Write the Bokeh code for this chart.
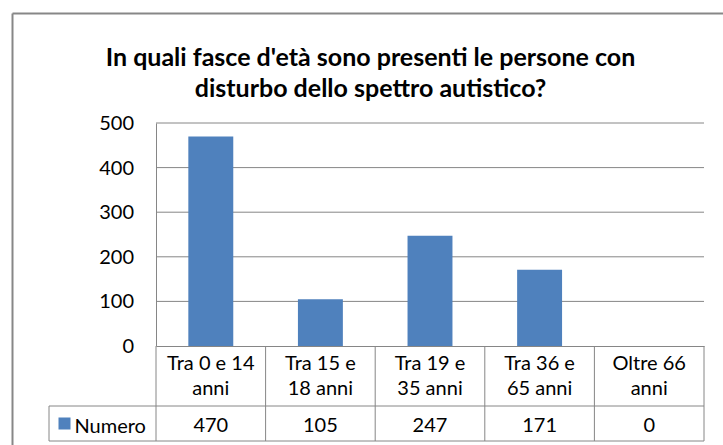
from bokeh.plotting import figure
from bokeh.models import ColumnDataSource, Range1d, FixedTicker
from bokeh.core.properties import value
from bokeh.embed import file_html
from bokeh.resources import INLINE

# ---- data ----
title_lines = ["In quali fasce d'età sono presenti le persone con",
               "disturbo dello spettro autistico?"]
categories = ["Tra 0 e 14 anni", "Tra 15 e 18 anni", "Tra 19 e 35 anni",
              "Tra 36 e 65 anni", "Oltre 66 anni"]
category_labels = ["Tra 0 e 14\nanni", "Tra 15 e\n18 anni", "Tra 19 e\n35 anni",
                   "Tra 36 e\n65 anni", "Oltre 66\nanni"]
series_name = "Numero"
values = [470, 105, 247, 171, 0]
y_ticks = [0, 100, 200, 300, 400, 500]

# ---- layout (pixels inside the figure) ----
W, H = 723, 445
FL, FR, FT, FB = 155.5, 703.5, 122.5, 345.5     # plot area
ROW1_BOT, ROW2_BOT = 405.5, 440.5                # data table rows
TABLE_LEFT = 48.5
FONT = "Lato"
FS = "20px"
BAR = "#4F81BD"
GRID = "#868686"
BORDER = "#878787"

ncat = len(categories)
ymax = y_ticks[-1]
centers = [i + 0.5 for i in range(ncat)]


def xd(px):
    return (px - FL) / (FR - FL) * ncat


def yd(py):
    return (FB - py) / (FB - FT) * ymax


p = figure(width=W, height=H, x_range=Range1d(xd(0), xd(W)),
           y_range=Range1d(yd(H), yd(0)), output_backend="svg",
           toolbar_location=None, min_border=0, min_border_left=0,
           min_border_right=0, min_border_top=0, min_border_bottom=0)
p.title.text = ""
p.outline_line_color = None
p.background_fill_color = "white"
p.border_fill_color = "white"
p.xgrid.visible = False
p.ygrid.visible = False

# y axis drawn at the left edge of the plot area
p.yaxis.fixed_location = 0
p.yaxis.bounds = (0, ymax)
p.yaxis.ticker = FixedTicker(ticks=y_ticks)
p.yaxis.major_tick_line_color = None
p.yaxis.minor_tick_line_color = None
p.yaxis.axis_line_color = GRID
p.yaxis.major_label_standoff = 16
p.yaxis.major_label_text_font = FONT
p.yaxis.major_label_text_font_size = FS
p.yaxis.major_label_text_color = "#000000"

# x axis (category row of the data table)
p.xaxis.fixed_location = 0
p.xaxis.bounds = (0, ncat)
p.xaxis.ticker = FixedTicker(ticks=centers)
p.xaxis.major_label_overrides = dict(zip(centers, category_labels))
p.xaxis.major_tick_line_color = None
p.xaxis.minor_tick_line_color = None
p.xaxis.axis_line_color = GRID
p.xaxis.major_label_standoff = -2
p.xaxis.major_label_text_font = FONT
p.xaxis.major_label_text_font_size = FS
p.xaxis.major_label_text_color = "#000000"
p.xaxis.major_label_text_line_height = 1.05

# gridlines
grid_vals = y_ticks[1:]
p.segment(x0=[0] * len(grid_vals), x1=[ncat] * len(grid_vals), y0=grid_vals,
          y1=grid_vals, line_color=GRID, line_width=1)

# bars
src = ColumnDataSource(dict(x=centers, val=values, txt=[str(v) for v in values]))
p.vbar(x="x", top="val", width=0.41, source=src, fill_color=BAR, line_color=None)

# data table lines
hx0 = [xd(TABLE_LEFT), xd(TABLE_LEFT)]
p.segment(x0=hx0, x1=[ncat, ncat], y0=[yd(ROW1_BOT), yd(ROW2_BOT)],
          y1=[yd(ROW1_BOT), yd(ROW2_BOT)], line_color=GRID, line_width=1)
vx = list(range(ncat + 1))
p.segment(x0=vx, x1=vx, y0=[0] * len(vx), y1=[yd(ROW2_BOT)] * len(vx),
          line_color=GRID, line_width=1)
p.segment(x0=[xd(TABLE_LEFT)], x1=[xd(TABLE_LEFT)], y0=[yd(ROW1_BOT)],
          y1=[yd(ROW2_BOT)], line_color=GRID, line_width=1)

row2_mid = (ROW1_BOT + ROW2_BOT) / 2
p.quad(left=[xd(58)], right=[xd(70)], top=[yd(row2_mid - 6)],
       bottom=[yd(row2_mid + 6)], fill_color=BAR, line_color=None)
p.text(x=[xd(74)], y=[yd(row2_mid + 1)], text=[series_name], text_baseline="middle",
       text_font=value(FONT), text_font_size=FS, text_color="#000000")
p.text(x="x", y=yd(row2_mid + 1), text="txt", source=src, text_align="center",
       text_baseline="middle", text_font=value(FONT), text_font_size=FS,
       text_color="#000000")

# title
p.text(x=[xd(370), xd(370)], y=[yd(55), yd(86)], text=title_lines,
       text_align="center", text_baseline="alphabetic", text_font=value(FONT),
       text_font_size="25px", text_font_style="bold", text_color="#000000")

# outer chart border (left and top edges visible)
p.segment(x0=[xd(12), xd(12)], x1=[xd(12), xd(W + 20)], y0=[yd(13), yd(13)],
          y1=[yd(H + 20), yd(13)], line_color=BORDER, line_width=2)

open("out.html", "w").write(file_html(p, INLINE))
